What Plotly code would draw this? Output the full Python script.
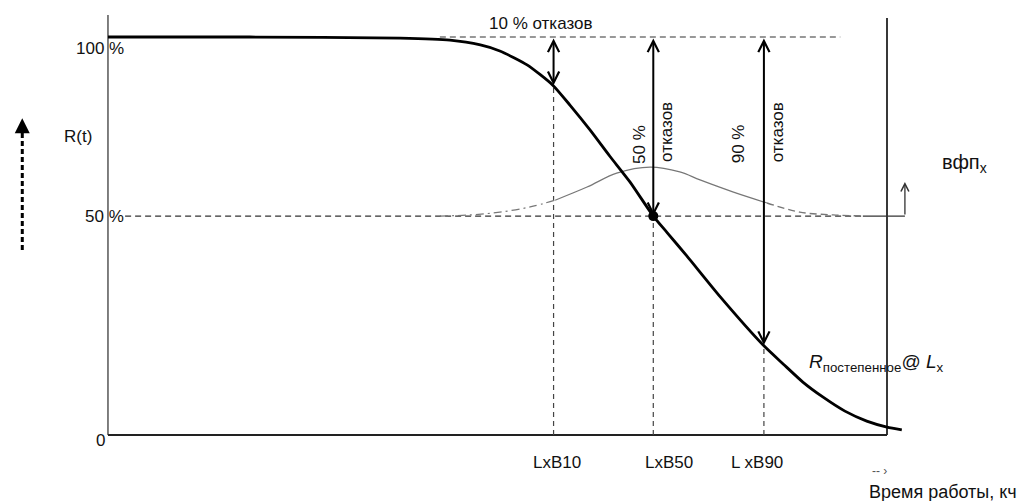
import plotly.graph_objects as go

# ---------------- data (schematic units: x = operating time, 0..100 at the right frame;
# y = R(t) position, 0 at the time axis, 100 at the 100 % level) ----------------
t_curve = [0, 18.2, 37.5, 43.9, 47.8, 50.3, 53.8, 57.1, 59.3, 61.9, 64.4, 67.0, 70.0,
           71.8, 74.3, 78.6, 84.1, 86.7, 89.2, 91.8, 94.6, 97.4, 100.0, 101.9]
r_curve = [100, 100, 99.7, 99.2, 98.0, 96.5, 93.0, 87.9, 82.9, 76.6, 70.1, 63.6, 55.0,
           50.8, 45.0, 34.7, 22.6, 17.8, 13.3, 9.5, 6.0, 3.5, 2.0, 1.3]

# failure density (вфп) curve, drawn in three styled pieces
t_pdf_left = [42.6, 46.5, 50.3, 54.2, 57.4]
pdf_left = [55.0, 55.3, 56.0, 57.3, 59.0]
t_pdf_mid = [57.4, 61.5, 65.3, 69.6, 73.4, 76.0, 80.2, 84.6]
pdf_mid = [59.0, 62.3, 65.8, 67.3, 66.1, 64.1, 61.1, 58.3]
t_pdf_right = [84.6, 88.8, 93.1, 96.9]
pdf_right = [58.3, 56.0, 55.3, 55.0]

level_100 = 100.0
level_50 = 55.0
pdf_axis_top = 63.6
pdf_axis_x = 102.3

L_positions = [57.2, 70.0, 84.2]      # LxB10, LxB50, LxB90
R_at_L = [87.9, 55.0, 22.6]

x_tick_pos = [57.6, 72.0, 83.3]
x_tick_text = ["LxB10", "LxB50", "L xB90"]
y_tick_vals = [100, 55, 0]
y_tick_text = ["100 %", "50 %", "0"]

FONT = "Liberation Sans, Arial, sans-serif"
DASH = "6px,4px"

fig = go.Figure()

# frame: left axis, bottom axis, right border
fig.add_trace(go.Scatter(x=[0, 0], y=[0, 105.5], mode="lines",
                         line=dict(color="#555", width=1.5), hoverinfo="skip"))
fig.add_trace(go.Scatter(x=[0, 100], y=[0, 0], mode="lines",
                         line=dict(color="#222", width=2), hoverinfo="skip"))
fig.add_trace(go.Scatter(x=[100, 100], y=[0, 104.8], mode="lines",
                         line=dict(color="#222", width=1.8), hoverinfo="skip"))

# reference levels
fig.add_trace(go.Scatter(x=[42.6, 94.0], y=[level_100, level_100], mode="lines",
                         line=dict(color="#333", width=1.2, dash=DASH), hoverinfo="skip"))
fig.add_trace(go.Scatter(x=[2.2, 96.9], y=[level_50, level_50], mode="lines",
                         line=dict(color="#333", width=1.2, dash=DASH), hoverinfo="skip"))
fig.add_trace(go.Scatter(x=[96.9, pdf_axis_x], y=[level_50, level_50], mode="lines",
                         line=dict(color="#333", width=1.4), hoverinfo="skip"))

# vertical dashed drop lines
for lx, ry in zip(L_positions, R_at_L):
    fig.add_trace(go.Scatter(x=[lx, lx], y=[0, ry], mode="lines",
                             line=dict(color="#444", width=1.2, dash="5px,4px"),
                             hoverinfo="skip"))

# density curve
fig.add_trace(go.Scatter(x=t_pdf_left, y=pdf_left, mode="lines", line_shape="spline",
                         line=dict(color="#777", width=1.2, dash="8px,4px,2px,4px"),
                         hoverinfo="skip"))
fig.add_trace(go.Scatter(x=t_pdf_mid, y=pdf_mid, mode="lines", line_shape="spline",
                         line=dict(color="#777", width=1.2), hoverinfo="skip"))
fig.add_trace(go.Scatter(x=t_pdf_right, y=pdf_right, mode="lines", line_shape="spline",
                         line=dict(color="#777", width=1.4, dash="7px,4px"),
                         hoverinfo="skip"))

# reliability curve
fig.add_trace(go.Scatter(x=t_curve, y=r_curve, mode="lines", line_shape="spline",
                         line=dict(color="#000", width=2.8, smoothing=0.6),
                         hoverinfo="skip"))

# 50 % point
fig.add_trace(go.Scatter(x=[L_positions[1]], y=[R_at_L[1]], mode="markers",
                         marker=dict(color="#000", size=10), hoverinfo="skip"))

# left dashed R(t) arrow
fig.add_trace(go.Scatter(x=[-11.0, -11.0], y=[46.5, 77.5], mode="lines",
                         line=dict(color="#000", width=3, dash="5px,3px"),
                         hoverinfo="skip"))

annotations = []

# double headed failure arrows
for lx, ry in zip(L_positions, R_at_L):
    annotations.append(dict(x=lx, y=ry, ax=lx, ay=level_100, xref="x", yref="y",
                            axref="x", ayref="y", text="", showarrow=True,
                            arrowhead=5, startarrowhead=5, arrowside="end+start",
                            arrowsize=1.1, startarrowsize=1.1, arrowwidth=2,
                            arrowcolor="#000"))

# вфп axis arrow
annotations.append(dict(x=pdf_axis_x, y=pdf_axis_top, ax=pdf_axis_x, ay=level_50,
                        xref="x", yref="y", axref="x", ayref="y", text="",
                        showarrow=True, arrowhead=5, arrowsize=1.2, arrowwidth=1.3,
                        arrowcolor="#333"))
# R(t) arrow head
annotations.append(dict(x=-11.0, y=79.6, ax=-11.0, ay=76.5, xref="x", yref="y",
                        axref="x", ayref="y", text="", showarrow=True, arrowhead=2,
                        arrowsize=1.0, arrowwidth=3, arrowcolor="#000"))

def txt(x, y, text, size=17, angle=0, xanchor="center", color="#111"):
    annotations.append(dict(x=x, y=y, xref="x", yref="y", text=text, showarrow=False,
                            textangle=angle, xanchor=xanchor, yanchor="middle",
                            font=dict(family=FONT, size=size, color=color)))

# y labels
txt(-1.0, 97.2, y_tick_text[0])
txt(-0.4, y_tick_vals[1], y_tick_text[1])
txt(-0.9, -1.3, y_tick_text[2])
# x labels
for xp, lab in zip(x_tick_pos, x_tick_text):
    txt(xp, -7.0, lab)

txt(55.6, 103.3, "10 % отказов")
txt(68.3, 72.9, "50 %", angle=-90)
txt(71.6, 76.1, "отказов", angle=-90)
txt(80.9, 73.1, "90 %", angle=-90)
txt(85.9, 76.1, "отказов", angle=-90)
txt(-3.85, 74.9, "R(t)")
txt(110.0, 68.3, "вфп<sub>x</sub>", size=20)
txt(89.7, 18.1, "<i>R</i><sub>постепенное</sub>@ <i>L</i><sub>x</sub>", size=19,
    xanchor="left")
txt(107.2, -14.3, "Время работы, кч", size=18)
txt(99.1, -9.0, "-- ›", size=12, color="#555")

fig.update_layout(
    width=1028, height=501,
    margin=dict(l=0, r=0, t=0, b=0),
    paper_bgcolor="white", plot_bgcolor="white",
    showlegend=False,
    xaxis=dict(range=[-13.86, 118.1], visible=False, fixedrange=True),
    yaxis=dict(range=[-16.58, 109.3], visible=False, fixedrange=True),
    annotations=annotations,
)

fig.write_html("out.html", config={"displayModeBar": False},
               post_script="document.body.style.margin='0';document.body.style.overflow='hidden';")
